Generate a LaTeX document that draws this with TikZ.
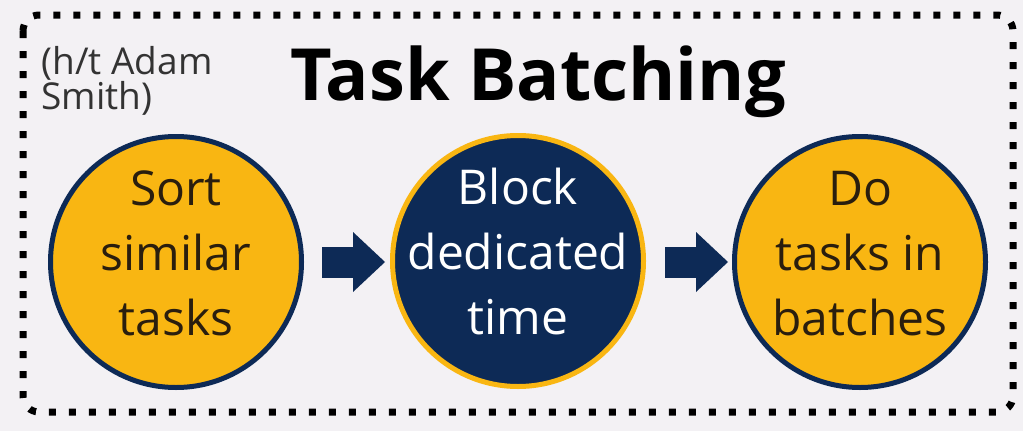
\documentclass[tikz,border=0pt]{standalone}
\usepackage{fontspec}
\setmainfont{Open Sans}
\usetikzlibrary{arrows.meta}

\definecolor{gold}{HTML}{F9B612}
\definecolor{navy}{HTML}{0D2A56}
\definecolor{paper}{HTML}{F3F1F4}
\definecolor{ink}{HTML}{2A1E0E}

\newcommand{\circlines}[3]{\raisebox{-2pt}[0pt][0pt]{\begin{tabular}{@{}c@{}}#1\\#2\\#3\end{tabular}}}

\tikzset{
  stage/.style={circle, minimum size=251pt, inner sep=0pt, line width=5pt,
    font=\fontsize{48}{65}\selectfont},
  goldstage/.style={stage, fill=gold, draw=navy, text=ink},
  navystage/.style={stage, fill=navy, draw=gold, text=white},
  flow/.style={navy, line width=31pt, -{Triangle[length=32pt, width=60pt, line width=0pt]}}
}

\begin{document}
\begin{tikzpicture}[x=1pt,y=-1pt]
\fill[paper] (0,0) rectangle (1023,431);
\useasboundingbox (0,0) rectangle (1023,431);
\draw[black, line width=7pt, dash pattern=on 7pt off 13pt, rounded corners=16pt] (23,15) rectangle (1013,412);
\node[font=\fontsize{37}{35}\selectfont, text=black!80, align=left, anchor=north west] (credit) at (38,43) {(h/t Adam\\Smith)};
\node[font=\bfseries\fontsize{72}{72}\selectfont, anchor=base] (title) at (538,100) {Task Batching};
\node[goldstage] (sort) at (176,262) {\circlines{Sort}{similar}{tasks}};
\node[navystage] (block) at (518,261) {\circlines{Block}{dedicated}{time}};
\node[goldstage] (batch) at (860,262) {\circlines{Do}{tasks in}{batches}};
\draw[flow, shorten <=18pt, shorten >=5pt] (sort) -- (sort -| block.west);
\draw[flow, shorten <=19pt, shorten >=4pt] (block.east |- batch) -- (batch);
\end{tikzpicture}
\end{document}
